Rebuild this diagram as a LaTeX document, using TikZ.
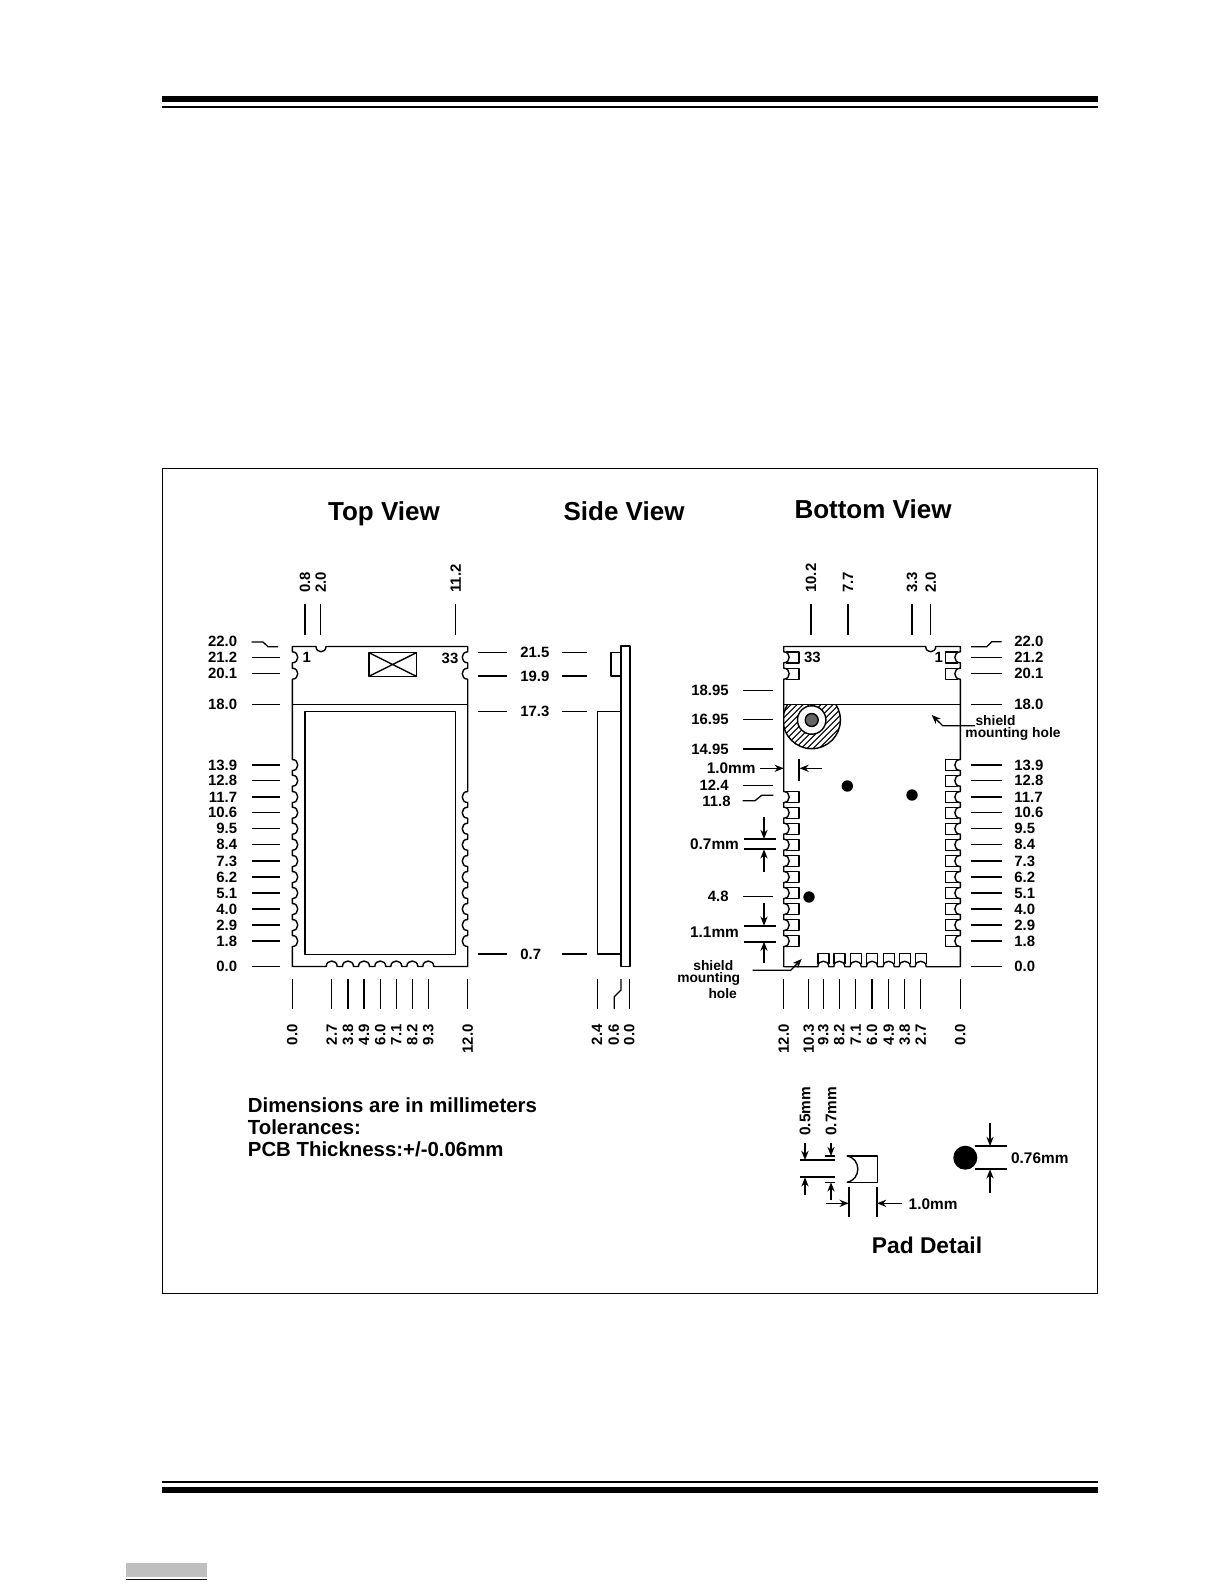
\documentclass[tikz,border=0pt]{standalone}
\usepackage{fontspec}
\setmainfont{Liberation Sans}
\usetikzlibrary{arrows.meta}
\tikzset{
	>={Stealth[length=4.6pt, width=3.6pt]}, % solid arrow heads on all dimension marks
	outline/.style={line width=0.7pt, line join=round}, % board and pad contours
	leader/.style={line width=0.65pt}, % dimension ticks
	dimbar/.style={line width=0.9pt}, % heavier bars between the arrows
	dimarrow/.style={->, line width=0.65pt},
	hatchline/.style={line width=0.55pt},
	numtext/.style={font=\bfseries\fontsize{7.45}{9}\selectfont, inner sep=0pt},
	numright/.style={numtext, anchor=east}, % label left of its tick
	numleft/.style={numtext, anchor=west}, % label right of its tick
	numup/.style={numtext, rotate=90, anchor=west}, % label above its tick
	numdown/.style={numtext, rotate=90, anchor=east}, % label below its tick
	mmtext/.style={font=\bfseries\fontsize{7.7}{9}\selectfont}, % labels that carry a unit
	viewtitle/.style={font=\bfseries\fontsize{13}{15}\selectfont, inner sep=0pt, anchor=base},
	holetext/.style={font=\bfseries\fontsize{6.9}{8}\selectfont, inner sep=0pt},
}
% pad rows, in page pixels from the top of the sheet
\def\rowsshort{657.3,673.7,797,812.7,828.7,844.7,861,877,893,909,925,941}
\def\rowslong{657.3,673.7,765,780.7,797,812.7,828.7,844.7,861,877,893,909,925,941}

\begin{document}
\begin{tikzpicture}[x=0.5pt, y=-0.5pt]
	\useasboundingbox (0,0) rectangle (1224,1584);

	% page rules and frame
	\fill (162,96) rectangle (1098,102);
	\fill (162,106) rectangle (1098,108);
	\fill (162,1481) rectangle (1098,1483);
	\fill (162,1487) rectangle (1098,1493);
	\fill[black!25] (126,1563) rectangle (207,1577);
	\fill[blue!50!black] (126,1579) rectangle (207,1580);
	\draw[line width=0.7pt] (162.7,468.7) rectangle (1097.3,1293.3);

	% titles
	\node[viewtitle] (toptitle) at (384,520) {Top View};
	\node[viewtitle] (sidetitle) at (624,520) {Side View};
	\node[viewtitle] (bottomtitle) at (873,518) {Bottom View};

	% top view
	\draw[outline] (292.3,646.5) -- (316,646.5) .. controls (316,653.5) and (326,653.5) .. (326,646.5) -- (467.7,646.5)
		foreach \y in \rowsshort { -- (467.7,\y-5.5) .. controls (460.4,\y-5.5) and (460.4,\y+5.5) .. (467.7,\y+5.5) }
		-- (467.7,966.5)
		foreach \x in {428.3,412.3,396.3,380.3,364,348,331.7} { -- (\x+5.5,966.5) .. controls (\x+5.5,959.2) and (\x-5.5,959.2) .. (\x-5.5,966.5) }
		-- (292.3,966.5)
		foreach \y in {941,925,909,893,877,861,844.7,828.7,812.7,797,780.7,765,673.7,657.3} { -- (292.3,\y+5.5) .. controls (299.6,\y+5.5) and (299.6,\y-5.5) .. (292.3,\y-5.5) }
		-- cycle;
	\draw[outline] (292.3,704.3) -- (467.7,704.3);
	\draw[outline] (305,711.7) rectangle (455.7,954.3);
	\draw[outline] (369,652.7) rectangle (416.3,676.3);
	\draw[outline] (369,652.7) -- (416.3,676.3) (369,676.3) -- (416.3,652.7);
	\node[numtext] (topone) at (306.7,657.5) {1};
	\node[numtext] (topthirty) at (450,658) {33};

	\node[numright] (tltop) at (237.5,641.5) {22.0};
	\draw[leader] (251.7,642) -- (263,642) -- (268,646.7) -- (278,646.7);
	\foreach \val/\ypos [count=\i] in {21.2/657.3, 20.1/673.7, 18.0/704.3, 13.9/765, 12.8/780.7, 11.7/797, 10.6/812.7, 9.5/828.7, 8.4/844.7, 7.3/861, 6.2/877, 5.1/893, 4.0/909, 2.9/925, 1.8/941, 0.0/966.7} {
		\node[numright] (tl-\i) at (237.5,\ypos) {\val};
		\draw[leader] (251.7,\ypos) -- (280.3,\ypos);
	}
	\foreach \val/\xpos [count=\i] in {0.8/305, 2.0/320.7, 11.2/455.7} {
		\node[numup] (tt-\i) at (\xpos,593) {\val};
		\draw[leader] (\xpos,604.3) -- (\xpos,634.7);
	}
	\foreach \val/\xpos [count=\i] in {0.0/292.3, 2.7/331.7, 3.8/348, 4.9/364, 6.0/380.3, 7.1/396.3, 8.2/412.3, 9.3/428.3, 12.0/467.7} {
		\node[numdown] (tb-\i) at (\xpos,1024) {\val};
		\draw[leader] (\xpos,978.7) -- (\xpos,1009);
	}

	% side view
	\draw[outline] (621,646) rectangle (630,966.7);
	\draw[outline] (621,652.7) -- (611,652.7) -- (611,676) -- (621,676);
	\draw[outline] (621,711.3) -- (597.3,711.3) -- (597.3,954) -- (621,954);
	\foreach \val/\ypos [count=\i] in {21.5/652.7, 19.9/676, 17.3/711.3, 0.7/954} {
		\node[numleft] (sl-\i) at (520,\ypos) {\val};
		\draw[leader] (478.3,\ypos) -- (507,\ypos);
		\draw[leader] (561.7,\ypos) -- (586.7,\ypos);
	}
	\node[numdown] (sb-1) at (597,1024) {2.4};
	\node[numdown] (sb-2) at (613.7,1024) {0.6};
	\node[numdown] (sb-3) at (629.3,1024) {0.0};
	\draw[leader] (597.3,979) -- (597.3,1009);
	\draw[leader] (621,979) -- (621,990) -- (614.3,996.7) -- (614.3,1009);
	\draw[leader] (629.3,979) -- (629.3,1009);

	% bottom view
	\begin{scope}
		\clip (783.7,704.3) rectangle (960,760);
		\clip (811.7,720) circle[radius=28.7];
		\foreach \k in {-42,-36,...,42}
			\draw[hatchline] (811.7+\k-32,752) -- (811.7+\k+32,688);
	\end{scope}
	\begin{scope}
		\clip (783.7,704.3) rectangle (960,760);
		\draw[outline] (811.7,720) circle[radius=28.7];
	\end{scope}
	\draw[outline, fill=white] (811.7,720) circle[radius=14.2];
	\draw[outline, fill=black!60] (811.7,720) circle[radius=6.5];
	\draw[outline] (783.7,646.5) -- (925.7,646.5) .. controls (925.7,653.5) and (935.7,653.5) .. (935.7,646.5) -- (960.3,646.5)
		foreach \y in \rowslong { -- (960.3,\y-5.5) .. controls (953,\y-5.5) and (953,\y+5.5) .. (960.3,\y+5.5) }
		-- (960.3,966.7)
		foreach \x in {920.7,904.7,888.7,872,855.7,839.3,823.3} { -- (\x+5.5,966.7) .. controls (\x+5.5,959.4) and (\x-5.5,959.4) .. (\x-5.5,966.7) }
		-- (783.7,966.7)
		foreach \y in {941,925,909,893,877,861,844.7,828.7,812.7,797,673.7,657.3} { -- (783.7,\y+5.5) .. controls (791,\y+5.5) and (791,\y-5.5) .. (783.7,\y-5.5) }
		-- cycle;
	\draw[outline] (783.7,704.3) -- (960.3,704.3);
	\foreach \y in \rowsshort
		\draw[outline] (786,\y-5.5) -- (799,\y-5.5) -- (799,\y+5.5) -- (786,\y+5.5);
	\foreach \y in \rowslong
		\draw[outline] (958,\y-5.5) -- (945.3,\y-5.5) -- (945.3,\y+5.5) -- (958,\y+5.5);
	\foreach \x in {920.7,904.7,888.7,872,855.7,839.3,823.3}
		\draw[outline] (\x-5.5,964) -- (\x-5.5,953.3) -- (\x+5.5,953.3) -- (\x+5.5,964);
	\fill (847.3,786) circle[radius=5.7];
	\fill (912,795) circle[radius=5.7];
	\fill (809,897) circle[radius=5.7];
	\node[numtext] (bone) at (938.7,657.7) {1};
	\node[numtext] (bthirty) at (812.3,657.7) {33};

	\node[numleft] (brtop) at (1014,641.5) {22.0};
	\draw[leader] (971,646.7) -- (986.7,646.7) -- (991.7,641.7) -- (1001.7,641.7);
	\foreach \val/\ypos [count=\i] in {21.2/657.3, 20.1/673.7, 18.0/704.3, 13.9/765, 12.8/780.7, 11.7/797, 10.6/812.7, 9.5/828.7, 8.4/844.7, 7.3/861, 6.2/877, 5.1/893, 4.0/909, 2.9/925, 1.8/941, 0.0/966.7} {
		\node[numleft] (br-\i) at (1014,\ypos) {\val};
		\draw[leader] (971,\ypos) -- (1001.7,\ypos);
	}
	\foreach \val/\xpos [count=\i] in {10.2/811, 7.7/848, 3.3/912, 2.0/930.7} {
		\node[numup] (bt-\i) at (\xpos,593) {\val};
		\draw[leader] (\xpos,604.3) -- (\xpos,634.7);
	}
	\foreach \val/\xpos [count=\i] in {12.0/783.7, 10.3/808.7, 9.3/823.3, 8.2/839.3, 7.1/855.7, 6.0/872, 4.9/888.7, 3.8/904.7, 2.7/920.7, 0.0/960.3} {
		\node[numdown] (bb-\i) at (\xpos,1024) {\val};
		\draw[leader] (\xpos,978.7) -- (\xpos,1009);
	}
	\foreach \val/\ypos [count=\i] in {18.95/690.7, 16.95/719.3, 14.95/749, 12.4/785.7, 4.8/896.7} {
		\node[numright] (bl-\i) at (729,\ypos) {\val};
		\draw[leader] (742.7,\ypos) -- (773.3,\ypos);
	}
	\node[numright] (blskew) at (731,801) {11.8};
	\draw[leader] (742.7,800.7) -- (755,800.7) -- (761.7,795.3) -- (773.3,795.3);

	% dimension marks beside the bottom view
	\node[numright, mmtext] (wallmm) at (756,768.3) {1.0mm};
	\draw[dimarrow] (760,768.3) -- (783.7,768.3);
	\draw[dimarrow] (822.3,768.3) -- (799.5,768.3);
	\draw[dimbar] (799,759.3) -- (799,780.7);

	\node[numright, mmtext] (gapmm) at (739.3,844) {0.7mm};
	\draw[dimbar] (744.3,839) -- (775.7,839) (744.3,849.3) -- (775.7,849.3);
	\draw[dimarrow] (764,816.7) -- (764,839);
	\draw[dimarrow] (764,871.7) -- (764,849.3);

	\node[numright, mmtext] (pitchmm) at (739.3,931.7) {1.1mm};
	\draw[dimbar] (744.3,925.7) -- (775.7,925.7) (744.3,941.7) -- (775.7,941.7);
	\draw[dimarrow] (764,902.7) -- (764,925.7);
	\draw[dimarrow] (764,963.3) -- (764,941.7);

	% shield mounting hole notes
	\node[holetext] (rshield) at (995.5,721) {shield};
	\node[holetext] (rmount) at (1013,734) {mounting hole};
	\draw[dimarrow] (975,725.7) -- (942.7,725.7) -- (931.7,715);
	\node[holetext] (lshield) at (713.3,966) {shield};
	\node[holetext] (lmount) at (708.7,979) {mounting};
	\node[holetext] (lhole) at (722.7,993.3) {hole};
	\draw[dimarrow] (752.7,970.3) -- (790.7,970.3) -- (801.7,959);

	% notes
	\node[anchor=west, align=left, inner sep=0pt, font=\bfseries\fontsize{10.2}{11}\selectfont] (notes) at (247.5,1127.5) {Dimensions are in millimeters\\Tolerances:\\PCB Thickness:+/-0.06mm};

	% pad detail
	\draw[outline] (846.7,1156) -- (877.7,1156) -- (877.7,1182.3) -- (846.7,1182.3);
	\draw[outline] (846.7,1156) .. controls (861.5,1158) and (861.5,1180) .. (846.7,1182.3);
	\draw[dimbar] (800,1160) -- (835,1160) (800,1177.3) -- (835,1177.3);
	\draw[leader] (825,1156) -- (835,1156) (825,1182.3) -- (835,1182.3);
	\draw[dimarrow] (805,1143.3) -- (805,1160);
	\draw[dimarrow] (805,1195) -- (805,1177.3);
	\draw[dimarrow] (831,1143.3) -- (831,1156);
	\draw[dimarrow] (831,1200) -- (831,1182.3);
	\node[numup, mmtext] (padwide) at (805,1136) {0.5mm};
	\node[numup, mmtext] (padtall) at (831,1136) {0.7mm};
	\draw[dimbar] (848.7,1186.7) -- (848.7,1216.7) (877,1186.7) -- (877,1216.7);
	\draw[dimarrow] (825.7,1203.3) -- (848.7,1203.3);
	\draw[dimarrow] (901.7,1203.3) -- (877,1203.3);
	\node[numleft, mmtext] (paddepth) at (908.3,1204) {1.0mm};
	\fill (965.3,1157.7) circle[radius=12];
	\draw[dimbar] (975,1146) -- (1006.7,1146) (975,1169.3) -- (1006.7,1169.3);
	\draw[dimarrow] (990,1123.3) -- (990,1146);
	\draw[dimarrow] (990,1192.7) -- (990,1169.3);
	\node[numleft, mmtext] (dotmm) at (1010.7,1157.7) {0.76mm};
	\node[font=\bfseries\fontsize{11.4}{13}\selectfont, inner sep=0pt, anchor=base] (padtitle) at (927,1253) {Pad Detail};
\end{tikzpicture}
\end{document}
